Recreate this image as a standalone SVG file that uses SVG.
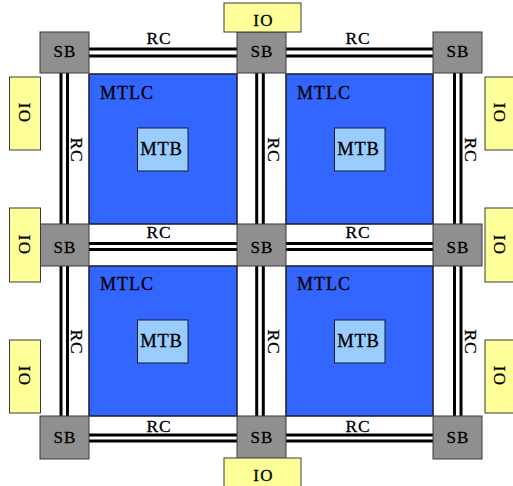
<svg xmlns="http://www.w3.org/2000/svg" width="513" height="486" viewBox="0 0 513 486">
<style>
text{font-family:"Liberation Serif","Times New Roman",serif;fill:#000;stroke:#000;stroke-width:0.3}
.sb rect{fill:#8f8f8f;stroke:#3a3a3a;stroke-width:1}
.sb text{font-size:17px;letter-spacing:1.2px;text-anchor:middle}
.io rect{fill:#ffff99;stroke:#3a3a3a;stroke-width:1}
.io text{font-size:17px;letter-spacing:1.2px;text-anchor:middle}
.mtlc>rect{fill:#3366ff;stroke:#1a1a2a;stroke-width:1.5}
.mtlc>text{font-size:18px;letter-spacing:1px}
.mtb rect{fill:#99ccff;stroke:#1a1a2a;stroke-width:1}
.mtb text{font-size:18.5px;letter-spacing:0.8px;text-anchor:middle}
.rc line{stroke:#000;stroke-width:3}
.rc text{font-size:17.5px;letter-spacing:0.8px;text-anchor:middle}
</style>
<rect x="0" y="0" width="513" height="486" fill="#fff" stroke="none"/>

<g id="mtlc-1" class="mtlc"><rect x="89" y="74" width="148" height="150"/><text x="100" y="99">MTLC</text>
<g id="mtb-1" class="mtb"><rect x="137.5" y="128" width="50.5" height="43"/><text x="161.5" y="154.5">MTB</text></g></g>
<g id="mtlc-2" class="mtlc"><rect x="286" y="74" width="147" height="150"/><text x="297" y="99">MTLC</text>
<g id="mtb-2" class="mtb"><rect x="334.5" y="128" width="50.5" height="43"/><text x="358.5" y="154.5">MTB</text></g></g>
<g id="mtlc-3" class="mtlc"><rect x="89" y="266" width="148" height="150"/><text x="100" y="290">MTLC</text>
<g id="mtb-3" class="mtb"><rect x="137.5" y="320" width="50.5" height="43"/><text x="161.5" y="346.5">MTB</text></g></g>
<g id="mtlc-4" class="mtlc"><rect x="286" y="266" width="147" height="150"/><text x="297" y="290">MTLC</text>
<g id="mtb-4" class="mtb"><rect x="334.5" y="320" width="50.5" height="43"/><text x="358.5" y="346.5">MTB</text></g></g>

<g id="connectors" class="rc">
<line x1="89" y1="49" x2="237" y2="49"/><line x1="89" y1="56" x2="237" y2="56"/><text x="159" y="44">RC</text>
<line x1="286" y1="49" x2="433" y2="49"/><line x1="286" y1="56" x2="433" y2="56"/><text x="358" y="44">RC</text>
<line x1="89" y1="243.5" x2="237" y2="243.5"/><line x1="89" y1="249.5" x2="237" y2="249.5"/><text x="159" y="238">RC</text>
<line x1="286" y1="243.5" x2="433" y2="243.5"/><line x1="286" y1="249.5" x2="433" y2="249.5"/><text x="358" y="238">RC</text>
<line x1="89" y1="435" x2="237" y2="435"/><line x1="89" y1="441" x2="237" y2="441"/><text x="159" y="431.5">RC</text>
<line x1="286" y1="435" x2="433" y2="435"/><line x1="286" y1="441" x2="433" y2="441"/><text x="358" y="431.5">RC</text>
<line x1="61" y1="73" x2="61" y2="224"/><line x1="67.5" y1="73" x2="67.5" y2="224"/><text transform="translate(71,150) rotate(90)">RC</text>
<line x1="61" y1="266" x2="61" y2="416"/><line x1="67.5" y1="266" x2="67.5" y2="416"/><text transform="translate(71,342) rotate(90)">RC</text>
<line x1="256.7" y1="73" x2="256.7" y2="224"/><line x1="263.3" y1="73" x2="263.3" y2="224"/><text transform="translate(268,150) rotate(90)">RC</text>
<line x1="256.7" y1="266" x2="256.7" y2="416"/><line x1="263.3" y1="266" x2="263.3" y2="416"/><text transform="translate(268,342) rotate(90)">RC</text>
<line x1="454.5" y1="73" x2="454.5" y2="224"/><line x1="461" y1="73" x2="461" y2="224"/><text transform="translate(465,150) rotate(90)">RC</text>
<line x1="454.5" y1="266" x2="454.5" y2="416"/><line x1="461" y1="266" x2="461" y2="416"/><text transform="translate(465,342) rotate(90)">RC</text>
</g>

<g id="sb-1" class="sb"><rect x="40" y="32" width="49" height="41"/><text x="65" y="56.5">SB</text></g>
<g id="sb-2" class="sb"><rect x="237" y="32" width="49" height="41"/><text x="262" y="56.5">SB</text></g>
<g id="sb-3" class="sb"><rect x="433" y="32" width="49" height="41"/><text x="458" y="56.5">SB</text></g>
<g id="sb-4" class="sb"><rect x="40" y="224" width="49" height="42"/><text x="65" y="253">SB</text></g>
<g id="sb-5" class="sb"><rect x="237" y="224" width="49" height="42"/><text x="262" y="253">SB</text></g>
<g id="sb-6" class="sb"><rect x="433" y="224" width="49" height="42"/><text x="458" y="253">SB</text></g>
<g id="sb-7" class="sb"><rect x="40" y="416" width="49" height="43"/><text x="65" y="443">SB</text></g>
<g id="sb-8" class="sb"><rect x="237" y="416" width="49" height="43"/><text x="262" y="443">SB</text></g>
<g id="sb-9" class="sb"><rect x="433" y="416" width="49" height="43"/><text x="458" y="443">SB</text></g>

<g id="io-top" class="io"><rect x="224" y="3" width="77" height="29"/><text x="263.5" y="26">IO</text></g>
<g id="io-bottom" class="io"><rect x="224" y="458" width="77" height="32"/><text x="263.5" y="480.5">IO</text></g>
<g id="io-left-1" class="io"><rect x="9.5" y="77" width="31" height="73"/><text transform="translate(19,113) rotate(90)">IO</text></g>
<g id="io-left-2" class="io"><rect x="9.5" y="208" width="31" height="74"/><text transform="translate(19,245) rotate(90)">IO</text></g>
<g id="io-left-3" class="io"><rect x="9.5" y="340" width="31" height="73"/><text transform="translate(19,376) rotate(90)">IO</text></g>
<g id="io-right-1" class="io"><rect x="485" y="77" width="32" height="73"/><text transform="translate(494,113) rotate(90)">IO</text></g>
<g id="io-right-2" class="io"><rect x="485" y="208" width="32" height="74"/><text transform="translate(494,245) rotate(90)">IO</text></g>
<g id="io-right-3" class="io"><rect x="485" y="340" width="32" height="73"/><text transform="translate(494,376) rotate(90)">IO</text></g>
</svg>
